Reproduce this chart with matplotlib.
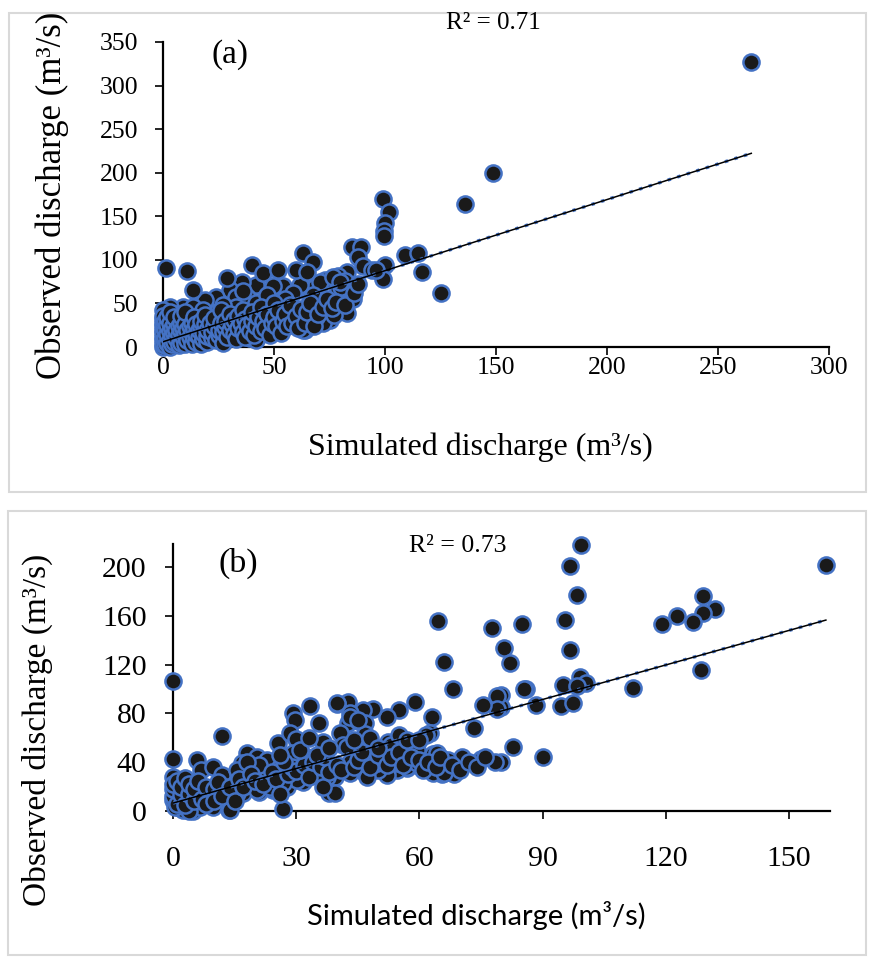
import matplotlib.pyplot as plt
from matplotlib.patches import Rectangle
import numpy as np

# panel (a): simulated vs observed discharge (m3/s)
sim_a = [265, 148.6, 136, 99, 102, 100, 99.5, 99.5, 85, 89, 88, 90, 94, 100, 99, 109, 115, 116.7, 125,
         85.6, 83, 75, 72, 81, 77.5, 73, 68.5, 79, 61.7, 57, 51, 42, 35.6, 30, 24, 19, 9, 3, 0,
         1.4, 11, 13.4, 29, 40, 45, 52, 60, 63, 67.6, 65, 83, 79, 82, 79, 80, 96, 77, 69, 66,
         58.6, 52, 45, 39, 31.5, 64, 26.6, 33, 38, 42, 48, 21, 29, 13.5, 24, 33, 39, 51, 63, 59.5,
         63, 69, 39, 42, 16.7, 7.7, 24, 12, 6.3, 0, 0, 13.5, 54, 49.5, 70.7, 76.6, 79.7, 58.6, 67.5,
         55, 47, 36, 27, 18, 6,
         0, 0, 0, 0, 0, 0, 0, 0, 1, 1, 1, 1, 2, 2, 2, 2, 3, 3, 3, 3, 3, 4, 4, 4, 5, 5, 5, 5, 6, 6,
         7, 7, 7, 8, 8, 8, 8, 9, 9, 10, 10, 10, 10, 11, 11, 12, 12, 13, 13, 13, 14, 14, 14, 15, 15,
         15, 16, 16, 17, 17, 17, 18, 18, 19, 19, 20, 20, 20, 21, 22, 22, 23, 23, 24, 25, 25, 26, 26,
         27, 27, 28, 28, 29, 30, 30, 31, 32, 32, 33, 34, 34, 35, 36, 36, 37, 37, 38, 39, 40, 40, 41,
         42, 43, 44, 44, 45, 46, 47, 48, 49, 50, 50, 51, 52, 53, 54, 55, 56, 57, 58, 60, 61, 62, 64,
         65, 66, 68, 70, 72, 74, 76, 78, 82, 86, 88]
obs_a = [327, 200, 164, 170, 155, 142, 133, 127, 115, 115, 103, 93, 88, 94, 78, 106, 108, 86, 62,
         55, 39, 31, 27.5, 77, 79, 77, 69, 63, 71, 62, 69, 71, 74.6, 65, 57, 54, 46, 46, 42,
         90.6, 87, 65, 79, 94, 85, 88, 88, 108, 97.6, 86, 86, 81, 76, 65, 69, 88, 37, 46, 56,
         34, 32, 27.5, 23, 11.5, 19.5, 12.6, 57, 57, 50, 46, 34, 34, 46, 39, 46, 34, 19.5, 31, 42,
         19.5, 34, 10, 8, 8, 8, 16, 31, 31, 19.5, 8, 19.5, 70, 70, 75, 80, 75, 62, 60,
         55, 60, 64, 48, 42, 38,
         0, 4, 12, 16, 24, 28, 32, 36, 2, 10, 20, 30, 5, 15, 25, 35, 0, 8, 18, 28, 40, 3, 13, 22, 6,
         16, 26, 34, 10, 20, 2, 14, 24, 5, 18, 28, 36, 11, 22, 3, 15, 26, 40, 8, 19, 12, 24, 4, 16,
         28, 10, 21, 35, 6, 15, 26, 12, 19, 3, 23, 30, 9, 16, 26, 37, 6, 13, 20, 28, 10, 17, 24, 33,
         8, 14, 20, 27, 42, 5, 17, 23, 30, 12, 20, 38, 26, 15, 31, 9, 22, 36, 28, 17, 42, 12, 32, 25,
         18, 30, 40, 14, 24, 35, 18, 46, 30, 22, 38, 14, 28, 34, 50, 24, 42, 16, 30, 38, 24, 48, 28,
         36, 22, 44, 28, 40, 50, 24, 38, 46, 55, 45, 52, 48, 62, 72]

# panel (b)
sim_b = [159, 99.3, 96.6, 98.5, 85, 95.4, 80.5, 82, 96.6, 99, 100.7, 95, 98.5, 112, 86, 79.8, 79.8,
         88.5, 94.6, 97.3, 82.7, 90, 79.8, 129, 132, 129, 126.6, 122.7, 119, 128.5, 64.6, 77.8, 66,
         68.3, 85.6, 79, 79, 75.4, 59, 63, 55, 52, 48.8, 46.3, 42.7, 40, 43, 42.7, 45, 46.8, 46.8,
         40.7, 41.5, 73.4, 75, 78.5, 70.5, 68.5, 65.6, 67, 63.4, 60, 57, 54.6, 52, 50, 46.8, 43,
         39.5, 38, 62.7, 61.5, 59, 53.7, 52.4, 57, 54.6, 51, 48.8,
         0, 0, 0, 5.8, 6.8, 9.8, 12, 12, 26.8, 13.7, 18, 20.5, 16.8, 15.6, 23, 25.6, 29.3, 29.8,
         28.5, 30, 33.4, 35.6, 36.6, 40, 29.3, 32.7, 26, 23, 18.8, 13, 7.3, 3.4, 1, 0, 1.7, 4.9,
         37.5, 34, 31.7, 27.8, 24.4, 21, 17, 11.5, 9, 5.8, 2.4, 9.8, 6.6,
         43, 45, 42.4, 53, 59.5, 64.4, 63.4, 66, 57, 47.3, 35, 30.2, 26.8, 23.7, 20.5, 15.6, 13,
         14, 2.4, 4, 0.5, 39.5, 36.6, 43, 49.8, 54.6, 59.5, 21, 18,
         0, 0, 0, 1, 1, 2, 2, 3, 3, 4, 4, 5, 5, 6, 7, 8, 8, 10, 10, 11, 12, 14, 15, 16, 17, 19, 20,
         22, 24, 25, 26, 28, 29, 30, 32, 33, 34, 36, 37, 38, 40, 41, 44, 45, 46, 48, 50, 52, 53, 55,
         56, 58, 60, 61, 62, 64, 65, 68, 70, 72, 74, 76, 27, 31, 35, 38, 26, 33, 44, 48, 50, 55, 57, 60]
obs_b = [201.6, 218, 200.8, 177, 153, 157, 133.6, 121, 132, 110, 105, 103, 102.5, 101, 100, 95, 85,
         87, 86, 88.5, 52.5, 44, 40, 176, 165.6, 162, 155, 160, 153, 115.6, 155.7, 150, 122,
         100, 100, 94, 84, 87, 89, 77, 83, 77, 83.6, 83, 89, 87.7, 80, 72, 74, 72, 63,
         64, 54, 68, 42.6, 40, 44, 30, 30, 42, 46.7, 37, 35, 33.6, 29.5, 33.6, 31, 31,
         28, 15, 64, 62, 52.5, 55.7, 56.6, 42, 39, 42, 40,
         107, 42.6, 28, 42, 34, 36, 61.5, 29.5, 1.6, 1, 47.5, 44, 39, 33.6, 42, 55.7, 80, 74.6,
         64, 59, 86, 72, 56.6, 88.5, 47.5, 44, 36, 28, 23, 19.7, 17, 19.7, 15.6, 9, 2.5, 0,
         28, 31, 24, 19.7, 17, 15.6, 14.7, 14.7, 11.5, 11.5, 9, 3.3, 3.3,
         77, 74.6, 52.5, 54, 50, 47.5, 31, 31, 36, 28, 30, 25.4, 23, 19.7, 17, 14.7, 9,
         0.8, 0.8, 0, 3.3, 14.7, 19.7, 40, 39, 42, 39, 37.7, 40,
         12, 18, 22, 6, 25, 13, 20, 5, 27, 14, 22, 8, 18, 25, 10, 20, 6, 18, 8, 24, 12, 20, 8, 26,
         20, 30, 25, 22, 32, 26, 14, 30, 36, 33, 38, 28, 40, 36, 44, 32, 38, 34, 36, 42, 48, 36, 46,
         38, 44, 48, 38, 44, 42, 34, 40, 36, 44, 38, 34, 40, 36, 44, 40, 50, 46, 52, 46, 60, 58, 60,
         52, 62, 58, 58]

# trendlines (intercept, slope)
fit_a = (6.0, 0.816)
fit_b = (6.5, 0.944)
r2_a = 'R² = 0.71'
r2_b = 'R² = 0.73'

xticks_a = [0, 50, 100, 150, 200, 250, 300]
yticks_a = [0, 50, 100, 150, 200, 250, 300, 350]
xticks_b = [0, 30, 60, 90, 120, 150]
yticks_b = [0, 40, 80, 120, 160, 200]

fill_c = '#1a1a1a'
edge_c = '#4472C4'
serif = ['Liberation Serif', 'DejaVu Serif']
sans = ['Lato', 'DejaVu Sans']


def panel(ax, x, y, fit, xt, yt, xlim, ylim, tsize, ypad, xpad):
    ax.scatter(x, y, s=135, c=fill_c, edgecolors=edge_c, linewidths=1.8, zorder=5, clip_on=False)
    xx = np.array([0, max(x)])
    yy = fit[0] + fit[1] * xx
    ax.plot(xx, yy, color=edge_c, lw=2.4, ls=(0, (1, 2)), zorder=6)
    ax.plot(xx, yy, color='black', lw=1.1, zorder=7)
    ax.set_xlim(xlim)
    ax.set_ylim(ylim)
    ax.set_xticks(xt)
    ax.set_yticks(yt)
    for s in ['top', 'right']:
        ax.spines[s].set_visible(False)
    for s in ['left', 'bottom']:
        ax.spines[s].set_linewidth(1.6)
    ax.tick_params(axis='both', direction='out', length=6, width=1.2)
    ax.tick_params(axis='y', pad=ypad)
    ax.tick_params(axis='x', pad=xpad)
    for lab in ax.get_xticklabels() + ax.get_yticklabels():
        lab.set_family(serif)
        lab.set_fontsize(tsize)


fig = plt.figure(figsize=(8.71, 9.61), dpi=100, facecolor='w')

# frames round the two panels
fig.patches.append(Rectangle((9 / 871, 1 - 492 / 961), 857 / 871, 479 / 961, transform=fig.transFigure,
                             fill=False, edgecolor='#d9d9d9', lw=1.5))
fig.patches.append(Rectangle((8 / 871, 1 - 955 / 961), 858 / 871, 444 / 961, transform=fig.transFigure,
                             fill=False, edgecolor='#d9d9d9', lw=1.5))

ax1 = fig.add_axes([163 / 871, 1 - 347 / 961, 666 / 871, 305 / 961])
panel(ax1, sim_a, obs_a, fit_a, xticks_a, yticks_a, (0, 300), (0, 350), 18.5, 12, 1)

ax2 = fig.add_axes([173 / 871, 1 - 811 / 961, 657 / 871, 267 / 961])
panel(ax2, sim_b, obs_b, fit_b, xticks_b, yticks_b, (0, 160), (0, 219), 21.5, 13, 19)

fig.text(52 / 871, 1 - 195 / 961, 'Observed discharge (m³/s)', rotation=90, ha='center', va='center',
         family=serif, fontsize=25)
fig.text(480 / 871, 1 - 447 / 961, 'Simulated discharge (m³/s)', ha='center', va='center',
         family=serif, fontsize=23)
fig.text(493 / 871, 1 - 23 / 961, r2_a, ha='center', va='center', family=serif, fontsize=18)
fig.text(230 / 871, 1 - 55 / 961, '(a)', ha='center', va='center', family=serif, fontsize=24)

fig.text(37 / 871, 1 - 730 / 961, 'Observed discharge (m³/s)', rotation=90, ha='center', va='center',
         family=serif, fontsize=24)
fig.text(476 / 871, 1 - 915 / 961, 'Simulated discharge (m³/s)', ha='center', va='center',
         family=sans, fontsize=21)
fig.text(458 / 871, 1 - 546 / 961, r2_b, ha='center', va='center', family=serif, fontsize=18.5)
fig.text(238 / 871, 1 - 563 / 961, '(b)', ha='center', va='center', family=serif, fontsize=24.5)

fig.savefig('out.png', dpi=100)
